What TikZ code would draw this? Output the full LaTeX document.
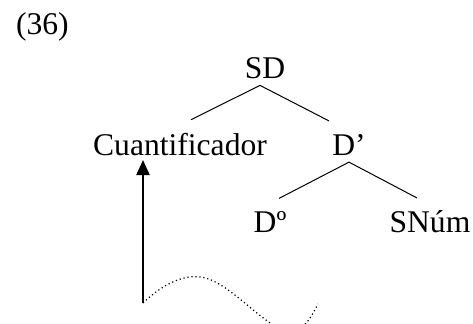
\documentclass[tikz,border=0pt]{standalone}
\usepackage{fontspec}
\setmainfont{Liberation Serif}
\usepackage{tikz}
\usetikzlibrary{arrows.meta, calc}

\begin{document}
\begin{tikzpicture}[
    x=0.5pt, y=-0.5pt,
    lbl/.style={anchor=base, font=\fontsize{15.8}{19}\selectfont},
    branch/.style={line width=0.5pt},
    move/.style={line width=1pt, -{Triangle[length=7.5pt, width=6.5pt]}},
    trace/.style={line width=0.6pt, dash pattern=on 0.6pt off 1.4pt}
]
    \useasboundingbox (0,0) rectangle (473,323);
    \clip (0,0) rectangle (473,323);

    \node[lbl, anchor=base west] (num) at (9,34) {(36)};

    % tree
    \node[lbl] (sd) at (265,78) {SD};
    \node[lbl] (cuant) at (180,155) {Cuantificador};
    \node[lbl] (dbar) at (349,155) {D’};
    \node[lbl] (dcero) at (270,232) {Dº};
    \node[lbl] (snum) at (430,232) {SNúm};

    \draw[branch] ([xshift=-2.5pt]sd.south) -- ([xshift=5.5pt, yshift=3pt]cuant.north);
    \draw[branch] ([xshift=-2.5pt]sd.south) -- ([xshift=-10pt, yshift=3pt]dbar.north);
    \draw[branch] (dbar.south) -- ([xshift=4.5pt, yshift=2.75pt]dcero.north);
    \draw[branch] (dbar.south) -- ([xshift=-6.5pt, yshift=2.5pt]snum.north);

    % movement
    \coordinate (foot) at (143,303);
    \draw[move, shorten >=2.5pt] (foot) -- (foot |- cuant.base);
    \draw[trace] (foot) .. controls (165,282) and (185,275) .. (200,277)
        .. controls (230,280) and (265,330) .. (290,331)
        .. controls (305,331) and (312,315) .. (318,304);
\end{tikzpicture}
\end{document}
